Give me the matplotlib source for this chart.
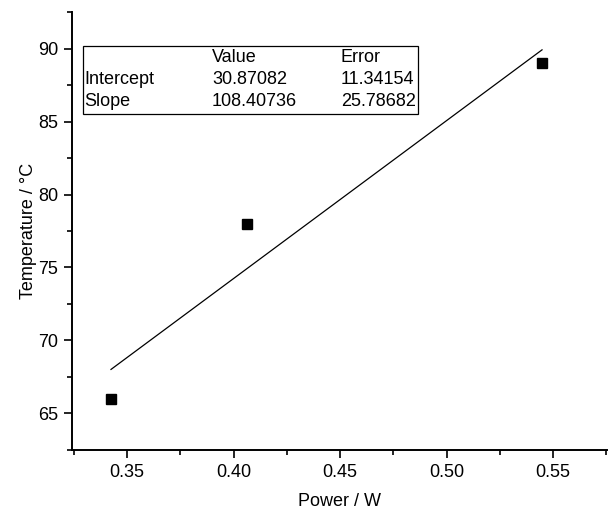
import matplotlib.pyplot as plt
from matplotlib.patches import Rectangle
from matplotlib.ticker import MultipleLocator

plt.rcParams['font.family'] = ['Liberation Sans', 'DejaVu Sans']

# measured data
power = [0.3425, 0.4063, 0.5448]
temperature = [66.0, 78.0, 89.0]

# linear fit results (as reported)
fit_names = ["Intercept", "Slope"]
fit_values = ["30.87082", "108.40736"]
fit_errors = ["11.34154", "25.78682"]
intercept = 30.87082
slope = 108.40736

fig = plt.figure(figsize=(6.16, 5.14), dpi=100)
ax = fig.add_axes([0.1169, 0.1245, 0.8685, 0.8522])

ax.plot(power, temperature, linestyle="none", marker="s", markersize=6.5,
        color="black")
x_fit = [power[0], power[-1]]
y_fit = [intercept + slope * x for x in x_fit]
ax.plot(x_fit, y_fit, color="black", linewidth=0.9)

ax.set_xlim(0.3242, 0.5753)
ax.set_ylim(62.47, 92.53)
ax.xaxis.set_major_locator(MultipleLocator(0.05))
ax.xaxis.set_minor_locator(MultipleLocator(0.025))
ax.yaxis.set_major_locator(MultipleLocator(5))
ax.yaxis.set_minor_locator(MultipleLocator(2.5))
ax.xaxis.set_major_formatter(lambda v, p: f"{v:.2f}")

for s in ("top", "right"):
    ax.spines[s].set_visible(False)
for s in ("left", "bottom"):
    ax.spines[s].set_linewidth(1.4)
ax.tick_params(which="major", direction="out", length=6, width=1.2,
               labelsize=13, pad=4)
ax.tick_params(which="minor", direction="out", length=3.5, width=1.2)

ax.set_xlabel("Power / W", fontsize=13, labelpad=9)
ax.set_ylabel("Temperature / °C", fontsize=13)
ax.yaxis.set_label_coords(-0.066, 0.5)

# fit result table
def fx(px):
    return px / 616

def fy(py):
    return 1 - py / 514

fig.patches.append(Rectangle((fx(83), fy(114)), fx(418) - fx(83),
                             fy(46) - fy(114), transform=fig.transFigure,
                             fill=False, edgecolor="black", linewidth=0.9))
rows_y = [57, 80, 102]
cols_x = [84, 212, 341]
fig.text(fx(cols_x[1]), fy(rows_y[0]), "Value", fontsize=13, va="center")
fig.text(fx(cols_x[2]), fy(rows_y[0]), "Error", fontsize=13, va="center")
for i, name in enumerate(fit_names):
    yy = fy(rows_y[i + 1])
    fig.text(fx(cols_x[0]), yy, name, fontsize=13, va="center")
    fig.text(fx(cols_x[1]), yy, fit_values[i], fontsize=13, va="center")
    fig.text(fx(cols_x[2]), yy, fit_errors[i], fontsize=13, va="center")

fig.savefig("out.png", dpi=100)
